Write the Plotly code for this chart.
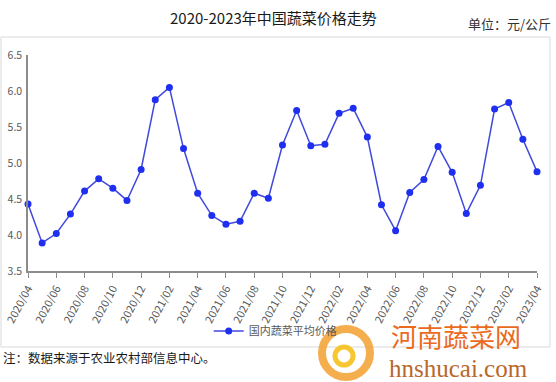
import plotly.graph_objects as go

months = ["2020/04","2020/05","2020/06","2020/07","2020/08","2020/09","2020/10","2020/11","2020/12",
          "2021/01","2021/02","2021/03","2021/04","2021/05","2021/06","2021/07","2021/08","2021/09",
          "2021/10","2021/11","2021/12","2022/01","2022/02","2022/03","2022/04","2022/05","2022/06",
          "2022/07","2022/08","2022/09","2022/10","2022/11","2022/12","2023/01","2023/02","2023/03","2023/04"]
prices = [4.43,3.89,4.02,4.29,4.61,4.78,4.65,4.48,4.91,
          5.88,6.05,5.20,4.58,4.27,4.15,4.19,4.58,4.51,
          5.25,5.73,5.24,5.26,5.69,5.76,5.36,4.42,4.06,
          4.59,4.77,5.23,4.87,4.30,4.69,5.75,5.84,5.33,4.88]
tick_labels = ["2020/04","2020/06","2020/08","2020/10","2020/12","2021/02","2021/04","2021/06","2021/08",
               "2021/10","2021/12","2022/02","2022/04","2022/06","2022/08","2022/10","2022/12","2023/02","2023/04"]
y_ticks = [3.5, 4.0, 4.5, 5.0, 5.5, 6.0, 6.5]

FONT = "Noto Sans CJK SC"

def px(x):
    return (x - 28) / 509

def py(y):
    return (271 - y) / 216

fig = go.Figure()
fig.add_trace(go.Scatter(
    x=months, y=prices, mode="lines+markers", name="国内蔬菜平均价格",
    line=dict(color="#4049dc", width=1.5),
    marker=dict(color="#1f2ff0", size=7),
    cliponaxis=False,
))

fig.update_layout(
    width=556, height=382,
    margin=dict(l=28, r=19, t=55, b=111, autoexpand=False),
    paper_bgcolor="white", plot_bgcolor="white",
    font=dict(family=FONT, color="#595959"),
    showlegend=True,
    legend=dict(orientation="h", x=0.355, y=py(331), xanchor="left", yanchor="middle",
                font=dict(size=11, color="#595959"), bgcolor="rgba(0,0,0,0)",
                itemwidth=30),
    xaxis=dict(type="category", categoryorder="array", categoryarray=months,
               range=[0, len(months) - 1], automargin=False,
               tickmode="array", tickvals=tick_labels, ticktext=tick_labels,
               tickangle=-62, tickfont=dict(size=11, color="#595959"),
               showline=True, linecolor="#8c8c8c", linewidth=1.5,
               ticks="outside", ticklen=5, tickcolor="#8c8c8c",
               showgrid=False, zeroline=False),
    yaxis=dict(range=[3.5, 6.5], tickvals=y_ticks, automargin=False,
               ticktext=[f"{v:.1f}" for v in y_ticks],
               tickfont=dict(size=10.5, color="#595959"),
               showline=True, linecolor="#8c8c8c", linewidth=1.5,
               ticks="", showgrid=False, zeroline=False, ticklabelstandoff=2),
)

# outer frame
fig.add_shape(type="rect", xref="paper", yref="paper",
              x0=px(1), x1=px(550), y0=py(347), y1=py(37),
              line=dict(color="#d9d9d9", width=1), fillcolor="rgba(0,0,0,0)", layer="below")

fig.add_annotation(text="2020-2023年中国蔬菜价格走势", xref="paper", yref="paper",
                   x=px(273), y=py(17), xanchor="center", yanchor="middle",
                   showarrow=False, font=dict(size=15, color="#1a1a1a", family=FONT))
fig.add_annotation(text="单位：元/公斤", xref="paper", yref="paper",
                   x=px(553), y=py(24), xanchor="right", yanchor="middle",
                   showarrow=False, font=dict(size=13, color="#333333", family=FONT))
fig.add_annotation(text="注：数据来源于农业农村部信息中心。", xref="paper", yref="paper",
                   x=px(1), y=py(357), xanchor="left", yanchor="middle",
                   showarrow=False, font=dict(size=12.5, color="#1a1a1a", family=FONT))
# watermark logo (rough swirl)
fig.add_shape(type="circle", xref="paper", yref="paper",
              x0=px(322), x1=px(370), y0=py(377), y1=py(329),
              line=dict(color="#f4a02e", width=8), fillcolor="rgba(0,0,0,0)", opacity=0.85)
fig.add_shape(type="circle", xref="paper", yref="paper",
              x0=px(335), x1=px(353), y0=py(365), y1=py(347),
              line=dict(color="#f7c11c", width=5), fillcolor="rgba(0,0,0,0)", opacity=0.9)
fig.add_annotation(text="河南蔬菜网", xref="paper", yref="paper",
                   x=px(456), y=py(335), xanchor="center", yanchor="middle",
                   showarrow=False, font=dict(size=26, color="#ea6a1e", family=FONT))
fig.add_annotation(text="hnshucai.com", xref="paper", yref="paper",
                   x=px(458), y=py(368), xanchor="center", yanchor="middle",
                   showarrow=False, font=dict(size=25, color="#b8682a", family="Liberation Serif"))

fig.write_html("out.html", config={"displayModeBar": False},
               post_script="document.body.style.margin='0';document.body.style.overflow='hidden';")
